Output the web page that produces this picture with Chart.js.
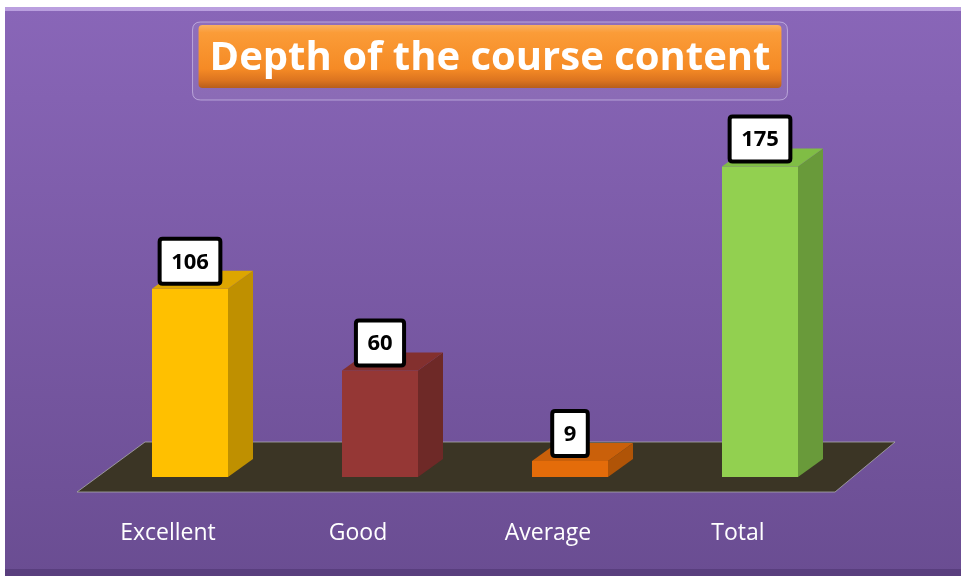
<!DOCTYPE html>
<html>
<head>
<meta charset="utf-8">
<script src="https://cdn.jsdelivr.net/npm/chart.js@4.4.0/dist/chart.umd.min.js"></script>
<style>
  html, body { margin: 0; padding: 0; background: #fff; }
  canvas { display: block; }
</style>
</head>
<body>
<canvas id="chart" width="961" height="580"></canvas>
<script>
const categories = ['Excellent', 'Good', 'Average', 'Total'];
const responses = [106, 60, 9, 175];
const frontColors = ['#FFC000', '#953735', '#E46C0A', '#92D050'];
const sideColors = ['#BF9000', '#6E2927', '#B05407', '#699A3A'];
const topColors = ['#DDA600', '#83302E', '#CA600A', '#80BD45'];

const DEPTH_X = 25, DEPTH_Y = 18;

function roundRect(ctx, x, y, w, h, r) {
  ctx.beginPath();
  ctx.moveTo(x + r, y);
  ctx.lineTo(x + w - r, y);
  ctx.quadraticCurveTo(x + w, y, x + w, y + r);
  ctx.lineTo(x + w, y + h - r);
  ctx.quadraticCurveTo(x + w, y + h, x + w - r, y + h);
  ctx.lineTo(x + r, y + h);
  ctx.quadraticCurveTo(x, y + h, x, y + h - r);
  ctx.lineTo(x, y + r);
  ctx.quadraticCurveTo(x, y, x + r, y);
  ctx.closePath();
}

// purple slide background, title plaque and the dark floor
const backdrop = {
  id: 'backdrop',
  afterLayout(chart) {
    // plaque sits a bit right of the plot centre
    chart.titleBlock.left += 30;
  },
  beforeDraw(chart) {
    const { ctx, width } = chart;
    ctx.save();
    ctx.fillStyle = '#fff';
    ctx.fillRect(0, 0, width, chart.height);
    const g = ctx.createLinearGradient(0, 7, 0, 576);
    g.addColorStop(0, '#8966b8');
    g.addColorStop(1, '#6a4d92');
    ctx.fillStyle = g;
    ctx.fillRect(5, 7, width - 5, 569);
    ctx.fillStyle = 'rgba(225,205,255,0.55)';
    ctx.fillRect(5, 7, width - 5, 4);
    ctx.fillStyle = 'rgba(50,30,80,0.3)';
    ctx.fillRect(5, 569, width - 5, 7);

    const t = chart.titleBlock;
    const titleOpts = chart.options.plugins.title;
    ctx.font = Chart.helpers.toFont(titleOpts.font).string;
    const tw = ctx.measureText(titleOpts.text).width;
    const cx = (t.left + t.right) / 2;

    roundRect(ctx, cx - tw / 2 - 17, 22, tw + 34, 78, 8);
    ctx.fillStyle = 'rgba(255,255,255,0.06)';
    ctx.fill();
    ctx.strokeStyle = 'rgba(225,215,245,0.55)';
    ctx.lineWidth = 1;
    ctx.stroke();

    const og = ctx.createLinearGradient(0, 25, 0, 88);
    og.addColorStop(0, '#f9b060');
    og.addColorStop(0.12, '#fb9c38');
    og.addColorStop(0.7, '#f58a25');
    og.addColorStop(0.88, '#dc7420');
    og.addColorStop(1, '#b85e1c');
    roundRect(ctx, cx - tw / 2 - 11, 25, tw + 22, 63, 4);
    ctx.fillStyle = og;
    ctx.fill();
    ctx.restore();
  },
  beforeDatasetsDraw(chart) {
    const { ctx } = chart;
    const { left, right, bottom } = chart.chartArea;
    ctx.save();
    ctx.beginPath();
    ctx.moveTo(left - 18, bottom + 15);
    ctx.lineTo(right - 20, bottom + 15);
    ctx.lineTo(right + 40, bottom - 35);
    ctx.lineTo(left + 50, bottom - 35);
    ctx.closePath();
    ctx.fillStyle = '#3b3525';
    ctx.fill();
    ctx.strokeStyle = 'rgba(170,170,170,0.8)';
    ctx.lineWidth = 1;
    ctx.stroke();
    ctx.restore();
  }
};

// side/top faces of each bar, then the boxed value labels
const bars3d = {
  id: 'bars3d',
  afterDatasetsDraw(chart) {
    const { ctx } = chart;
    const meta = chart.getDatasetMeta(0);
    ctx.save();
    meta.data.forEach((bar, i) => {
      const l = bar.x - bar.width / 2, r = bar.x + bar.width / 2;
      const top = bar.y, base = bar.base;

      ctx.beginPath();
      ctx.moveTo(r, top);
      ctx.lineTo(r + DEPTH_X, top - DEPTH_Y);
      ctx.lineTo(r + DEPTH_X, base - DEPTH_Y);
      ctx.lineTo(r, base);
      ctx.closePath();
      ctx.fillStyle = sideColors[i];
      ctx.fill();

      ctx.beginPath();
      ctx.moveTo(l, top);
      ctx.lineTo(l + DEPTH_X, top - DEPTH_Y);
      ctx.lineTo(r + DEPTH_X, top - DEPTH_Y);
      ctx.lineTo(r, top);
      ctx.closePath();
      ctx.fillStyle = topColors[i];
      ctx.fill();
    });

    ctx.font = 'bold 22px "Open Sans"';
    ctx.textAlign = 'center';
    ctx.textBaseline = 'middle';
    meta.data.forEach((bar, i) => {
      const txt = String(responses[i]);
      const w = ctx.measureText(txt).width + 23;
      const h = 45;
      const y0 = bar.y - 5 - h;
      roundRect(ctx, bar.x - w / 2, y0, w, h, 3);
      ctx.fillStyle = '#fff';
      ctx.fill();
      ctx.lineWidth = 4;
      ctx.strokeStyle = '#000';
      ctx.stroke();
      ctx.fillStyle = '#000';
      ctx.fillText(txt, bar.x, y0 + h / 2 + 1);
    });
    ctx.restore();
  }
};

new Chart(document.getElementById('chart'), {
  type: 'bar',
  data: {
    labels: categories,
    datasets: [{
      label: 'Depth of the course content',
      data: responses,
      backgroundColor: frontColors,
      borderWidth: 0,
      barPercentage: 0.8,
      categoryPercentage: 0.5
    }]
  },
  options: {
    responsive: false,
    animation: false,
    layout: { padding: { left: 95, right: 106, top: 0, bottom: 0 } },
    plugins: {
      legend: { display: false },
      tooltip: { enabled: false },
      title: {
        display: true,
        text: 'Depth of the course content',
        color: '#fff',
        font: { family: 'Open Sans', size: 40, weight: 'bold' },
        padding: { top: 35, bottom: 39 }
      }
    },
    scales: {
      x: {
        grid: { display: false, drawTicks: false },
        border: { display: false },
        ticks: {
          color: '#fff',
          font: { family: 'Open Sans', size: 23 },
          padding: 43,
          labelOffset: -22,
          maxRotation: 0
        },
        afterFit(scale) { scale.height = 103; }
      },
      y: {
        display: false,
        min: 0,
        max: 200
      }
    }
  },
  plugins: [backdrop, bars3d]
});
</script>
</body>
</html>
